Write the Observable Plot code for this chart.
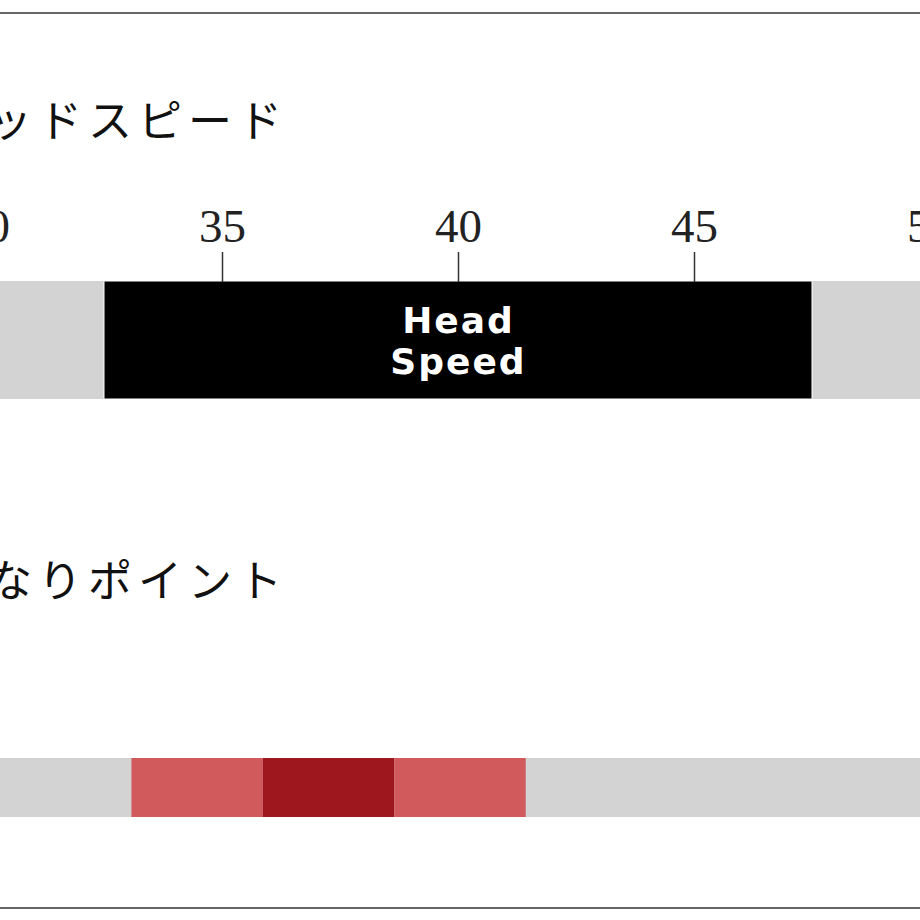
<!DOCTYPE html>
<html><head><meta charset="utf-8">
<script src="https://cdn.jsdelivr.net/npm/d3@7"></script>
<script src="https://cdn.jsdelivr.net/npm/@observablehq/plot@0.6"></script>
<style>
html,body{margin:0;padding:0;background:#fff;overflow:hidden;}
#page{position:relative;width:920px;height:920px;overflow:hidden;background:#fff;}
.rule{position:absolute;left:0;width:920px;height:2px;background:#666;}
.title{position:absolute;left:-62px;font-family:"Noto Sans CJK JP";font-size:44px;line-height:44px;letter-spacing:6px;color:#111;white-space:nowrap;}
.chart{position:absolute;left:0;top:0;}
</style></head><body>
<div id="page">
 <div class="rule" style="top:12px"></div>
 <div class="title" id="t1" style="top:96px"></div>
 <div class="chart" id="c1" style="top:170px"></div>
 <div class="title" id="t2" style="top:556px"></div>
 <div class="chart" id="c2" style="top:740px"></div>
 <div class="rule" style="top:907px"></div>
</div>
<script>
// ---- data ----
const titles = ["ヘッドスピード", "しなりポイント"];
const speedTicks = [30, 35, 40, 45, 50];
const speedTrack = [30, 50];
const headSpeedRange = [32.5, 47.5];
const headSpeedLabel = "Head\nSpeed";
const kickSegments = [0, 1, 2, 3, 4, 5, 6];
const kickLevels = [0, 1, 2, 1, 0, 0, 0];
const kickColors = ["#d3d3d3", "#d05a5c", "#9e161e"];

document.getElementById("t1").textContent = titles[0];
document.getElementById("t2").textContent = titles[1];

// ---- head speed chart ----
const c1 = Plot.plot({
  width: 920, height: 240,
  marginTop: 111, marginBottom: 11, marginLeft: 0, marginRight: 0,
  x: {domain: speedTrack, range: [-14, 930]},
  style: {fontFamily: "Liberation Serif", fontSize: "47px", color: "#222", overflow: "hidden", background: "transparent"},
  marks: [
    Plot.barX([{x1: speedTrack[0], x2: speedTrack[1]}], {x1: "x1", x2: "x2", fill: "#d3d3d3"}),
    Plot.barX([{x1: headSpeedRange[0], x2: headSpeedRange[1]}], {x1: "x1", x2: "x2", fill: "#000", stroke: "#fff", strokeWidth: 1}),
    Plot.text([headSpeedLabel], {
      x: (headSpeedRange[0] + headSpeedRange[1]) / 2, text: d => d, frameAnchor: "middle",
      fill: "#fff", fontSize: 36, fontWeight: "bold", fontFamily: "DejaVu Sans", lineHeight: 1.14
    }),
    Plot.axisX({anchor: "top", ticks: speedTicks, tickSize: 30, tickPadding: 10, stroke: "#333", strokeWidth: 1.5, fill: "#222", label: null, tickFormat: d => String(d)})
  ]
});
d3.select(c1).selectAll("text").filter(function(){ return d3.select(this.parentNode).attr("fill") === "#fff" || this.getAttribute("fill") === "#fff"; }).style("letter-spacing", "2px");
document.getElementById("c1").appendChild(c1);

// ---- kick point chart ----
const c2 = Plot.plot({
  width: 920, height: 100,
  marginTop: 18, marginBottom: 23, marginLeft: 0, marginRight: 0,
  x: {domain: [0, kickSegments.length], range: [0, 920], axis: null},
  color: {type: "identity"},
  style: {overflow: "hidden", background: "transparent"},
  marks: [
    Plot.barX([0], {x1: 0, x2: kickSegments.length, fill: kickColors[0]}),
    Plot.barX(kickSegments.filter(i => kickLevels[i] > 0), {x1: d => d, x2: d => d + 1, fill: i => kickColors[kickLevels[i]]})
  ]
});
document.getElementById("c2").appendChild(c2);
</script>
</body></html>
